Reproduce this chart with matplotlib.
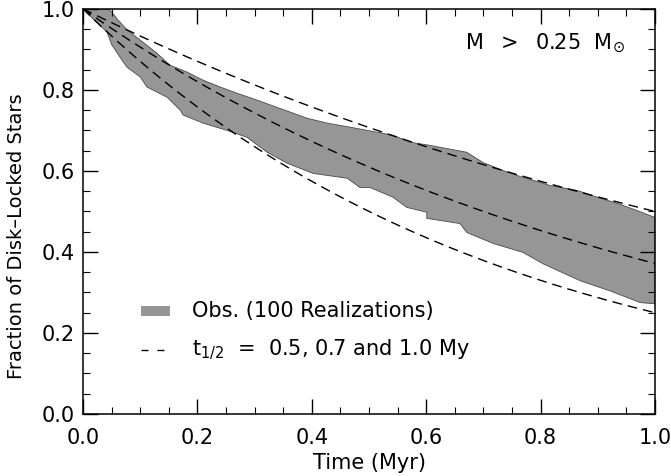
import numpy as np
import matplotlib
matplotlib.use("Agg")
import matplotlib.pyplot as plt
from matplotlib.ticker import MultipleLocator, FormatStrFormatter

# Envelope of the 100 observational realizations
upper_t = [0.0, 0.017, 0.047, 0.061, 0.077, 0.100, 0.129, 0.152, 0.182, 0.210,
           0.240, 0.269, 0.304, 0.339, 0.392, 0.427, 0.467, 0.542, 0.572, 0.607,
           0.671, 0.699, 0.734, 0.769, 0.787, 0.816, 0.864, 0.899, 0.934, 0.969, 1.0]
upper_f = [1.0, 1.0, 0.998, 0.973, 0.948, 0.923, 0.891, 0.861, 0.844, 0.824,
           0.807, 0.792, 0.775, 0.757, 0.730, 0.718, 0.708, 0.688, 0.671, 0.663,
           0.646, 0.621, 0.601, 0.584, 0.577, 0.564, 0.552, 0.535, 0.520, 0.502, 0.485]
lower_t = [0.0, 0.020, 0.042, 0.050, 0.068, 0.077, 0.100, 0.112, 0.147, 0.170,
           0.175, 0.210, 0.252, 0.287, 0.322, 0.357, 0.402, 0.462, 0.484, 0.502,
           0.542, 0.566, 0.601, 0.601, 0.659, 0.671, 0.717, 0.769, 0.804, 0.869,
           0.921, 0.934, 0.974, 1.0]
lower_f = [1.0, 0.972, 0.943, 0.912, 0.874, 0.856, 0.832, 0.807, 0.782, 0.750,
           0.738, 0.718, 0.700, 0.683, 0.646, 0.619, 0.594, 0.582, 0.559, 0.559,
           0.535, 0.510, 0.498, 0.483, 0.470, 0.448, 0.421, 0.399, 0.371, 0.329,
           0.304, 0.297, 0.275, 0.272]

# Exponential decay models with these half-lives (Myr)
half_lives = [0.5, 0.7, 1.0]

FS = 15
DASH = (0, (7, 4.3))

plt.rcParams['font.family'] = ['DejaVu Sans']
fig = plt.figure(figsize=(6.71, 4.76), dpi=100)
ax = fig.add_axes([0.1237, 0.1303, 0.8525, 0.851])

poly_t = np.concatenate([upper_t, lower_t[::-1]])
poly_f = np.concatenate([upper_f, lower_f[::-1]])
ax.fill(poly_t, poly_f, facecolor='#969696', edgecolor='#4a4a4a', linewidth=0.6, zorder=1)

t = np.linspace(0, 1, 400)
for th in half_lives:
    ax.plot(t, 2.0 ** (-t / th), color='black', linestyle=DASH, linewidth=1.0, zorder=2)

ax.set_xlim(0, 1)
ax.set_ylim(0, 1)
ax.xaxis.set_major_locator(MultipleLocator(0.2))
ax.xaxis.set_minor_locator(MultipleLocator(0.05))
ax.yaxis.set_major_locator(MultipleLocator(0.2))
ax.yaxis.set_minor_locator(MultipleLocator(0.05))
ax.xaxis.set_major_formatter(FormatStrFormatter('%.1f'))
ax.yaxis.set_major_formatter(FormatStrFormatter('%.1f'))
ax.tick_params(which='both', direction='in', top=True, right=True, labelsize=FS)
ax.tick_params(axis='x', which='major', pad=10)
ax.tick_params(axis='y', which='major', pad=6)
ax.tick_params(which='major', length=11, width=1)
ax.tick_params(which='minor', length=5, width=0.8)
for sp in ax.spines.values():
    sp.set_linewidth(1.1)

ax.set_xlabel('Time (Myr)', fontsize=FS, labelpad=4)
ax.set_ylabel('Fraction of Disk–Locked Stars', fontsize=14)
ax.yaxis.set_label_coords(-0.1, 0.44)

ax.text(0.947, 0.915, r'M  $>$  0.25  M$_{\odot}$', transform=ax.transAxes,
        ha='right', va='center', fontsize=FS)

# Legend entries
ax.fill([0.101, 0.152, 0.152, 0.101], [0.243, 0.243, 0.267, 0.267],
        facecolor='#969696', edgecolor='none', transform=ax.transAxes)
ax.text(0.19, 0.255, 'Obs. (100 Realizations)', transform=ax.transAxes,
        ha='left', va='center', fontsize=FS)
ax.plot([0.101, 0.145], [0.158, 0.158], color='black', linestyle=(0, (5, 6.5)),
        linewidth=1.0, transform=ax.transAxes)
ax.text(0.19, 0.158, r't$_{1/2}$  =  0.5, 0.7 and 1.0 My', transform=ax.transAxes,
        ha='left', va='center', fontsize=FS)

fig.savefig('out.png', dpi=100)
